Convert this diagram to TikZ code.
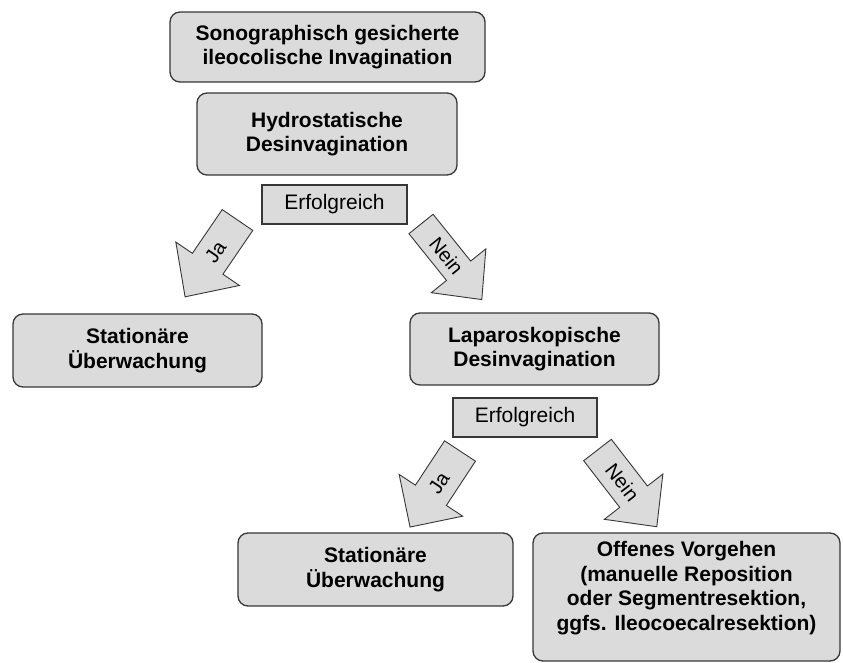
\documentclass[tikz,border=0pt]{standalone}
\usepackage{fontspec}
\setmainfont{Liberation Sans}
\definecolor{boxfill}{RGB}{219,219,219}
\definecolor{boxline}{RGB}{55,55,55}
\tikzset{
  box/.style={draw=boxline, line width=1.3pt, fill=boxfill, rounded corners=10pt,
    align=center, font=\fontsize{21}{24.5}\selectfont\bfseries, inner sep=0pt},
  decbox/.style={draw=boxline, line width=1.5pt, fill=boxfill, align=center,
    font=\fontsize{21}{24.5}\selectfont, inner sep=0pt},
  arr/.style={draw=boxline, line width=0.9pt, fill=boxfill, line join=miter},
  lab/.style={font=\fontsize{20}{24}\selectfont, inner sep=0pt},
  txt/.style={align=center, font=\fontsize{21}{24.5}\selectfont\bfseries, inner sep=0pt}
}
% #1,#2 tail middle; #3 direction; #4 length; #5 shaft width; #6 head width; #7 head length; #8 text rotation; #9 text
\newcommand\myblockarrow[9]{%
  \begin{scope}[shift={(#1,#2)}, rotate=#3]
    \draw[arr] (0,{-#5/2}) -- ({#4-#7},{-#5/2}) -- ({#4-#7},{-#6/2}) -- (#4,0)
      -- ({#4-#7},{#6/2}) -- ({#4-#7},{#5/2}) -- (0,{#5/2}) -- cycle;
    \node[lab, rotate=#8] at ({0.42*#4},0) {#9};
  \end{scope}}
\begin{document}
\begin{tikzpicture}[x=1pt, y=1pt]
\useasboundingbox[fill=white] (0,0) rectangle (843,-663);

\node[box, minimum width=315pt, minimum height=70pt] (sono) at (327.5,-47)
  {Sonographisch gesicherte\\ileocolische Invagination};
\node[box, minimum width=260pt, minimum height=82pt] (hydro) at (327,-134)
  {Hydrostatische\\Desinvagination};
\node[decbox, minimum width=145pt, minimum height=39pt] (erf1) at (334.5,-204.5)
  {Erfolgreich};
\node[box, minimum width=249pt, minimum height=73pt] (stat1) at (137.5,-350.5)
  {Station\"are\\\"Uberwachung};
\node[box, minimum width=249pt, minimum height=72pt] (lap) at (534.5,-349)
  {Laparoskopische\\Desinvagination};
\node[decbox, minimum width=144pt, minimum height=39pt] (erf2) at (525,-417.5)
  {Erfolgreich};
\node[box, minimum width=275pt, minimum height=73pt] (stat2) at (375.5,-569.5)
  {Station\"are\\\"Uberwachung};
\node[box, minimum width=307pt, minimum height=128pt] (off) at (686.5,-597) {};
\node[txt] (offtxt) at ([yshift=9pt]off.center)
  {Offenes Vorgehen\\(manuelle Reposition\\oder Segmentresektion,\\ggfs. Ileocoecalresektion)};

\myblockarrow{237.5}{-220}{235.7}{93}{37}{77}{40}{55.7}{Ja}
\myblockarrow{421}{-224}{-51.2}{97}{31}{70}{37}{-51.2}{Nein}
\myblockarrow{460}{-451}{236.7}{91}{37}{76}{38}{56.7}{Ja}
\myblockarrow{597.5}{-450}{-52.3}{97}{35}{74}{38}{-52.3}{Nein}
\end{tikzpicture}
\end{document}
